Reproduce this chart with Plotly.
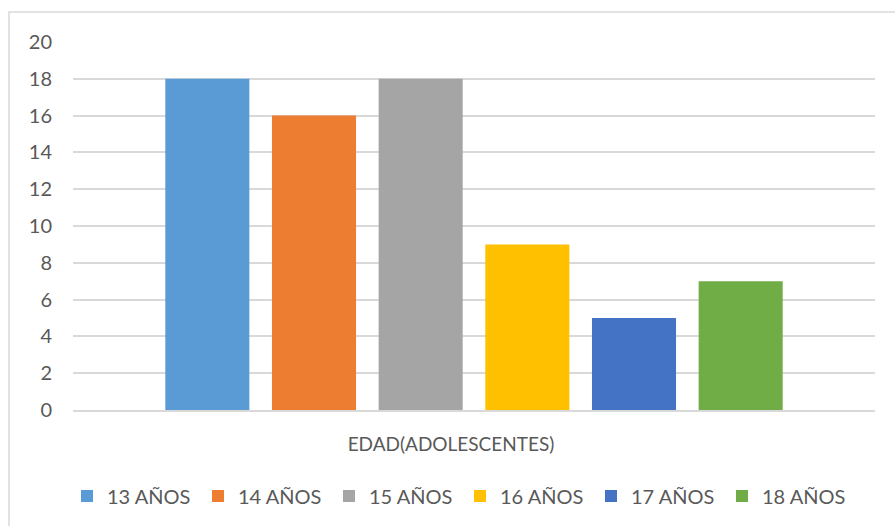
import plotly.graph_objects as go

category = ["EDAD(ADOLESCENTES)"]
series_names = ["13 AÑOS", "14 AÑOS", "15 AÑOS", "16 AÑOS", "17 AÑOS", "18 AÑOS"]
series_values = [18, 16, 18, 9, 5, 7]
series_colors = ["#5B9BD5", "#ED7D31", "#A5A5A5", "#FFC000", "#4472C4", "#70AD47"]
y_ticks = [0, 2, 4, 6, 8, 10, 12, 14, 16, 18, 20]

fig = go.Figure()
for name, val, col in zip(series_names, series_values, series_colors):
    fig.add_trace(go.Bar(x=category, y=[val], name=name, marker=dict(color=col, line=dict(width=0))))

W, H = 895, 526
ml, mr, mt, mb = 73, 20, 42, 115
pw, ph = W - ml - mr, H - mt - mb

fig.update_layout(
    width=W, height=H,
    margin=dict(l=ml, r=mr, t=mt, b=mb),
    paper_bgcolor="white", plot_bgcolor="white",
    barmode="group", bargap=0.202, bargroupgap=0.212,
    font=dict(family="Lato", size=20, color="#595959"),
    showlegend=True,
    legend=dict(orientation="h", x=(460 - ml) / pw, xanchor="center",
                y=(411 - 496) / ph, yanchor="middle",
                font=dict(size=20, color="#595959"),
                entrywidth=86, entrywidthmode="pixels",
                itemwidth=30, traceorder="normal"),
    xaxis=dict(showgrid=False, showline=True, linecolor="#d9d9d9", linewidth=2,
               ticks="", ticklabelstandoff=16, ticklabelshift=-23,
               tickfont=dict(size=19, color="#595959")),
    yaxis=dict(range=[0, 20], tickvals=y_ticks, showgrid=True, gridcolor="#d9d9d9",
               gridwidth=2, zeroline=False, showline=False, ticks="",
               ticklabelstandoff=20, tickfont=dict(size=20, color="#595959")),
    shapes=[dict(type="rect", xref="paper", yref="paper",
                 x0=(9 - ml) / pw, x1=(905 - ml) / pw,
                 y0=(411 - 540) / ph, y1=(411 - 12) / ph,
                 line=dict(color="#d9d9d9", width=1.5), fillcolor="rgba(0,0,0,0)", layer="below")],
)

fig.write_html("out.html")
